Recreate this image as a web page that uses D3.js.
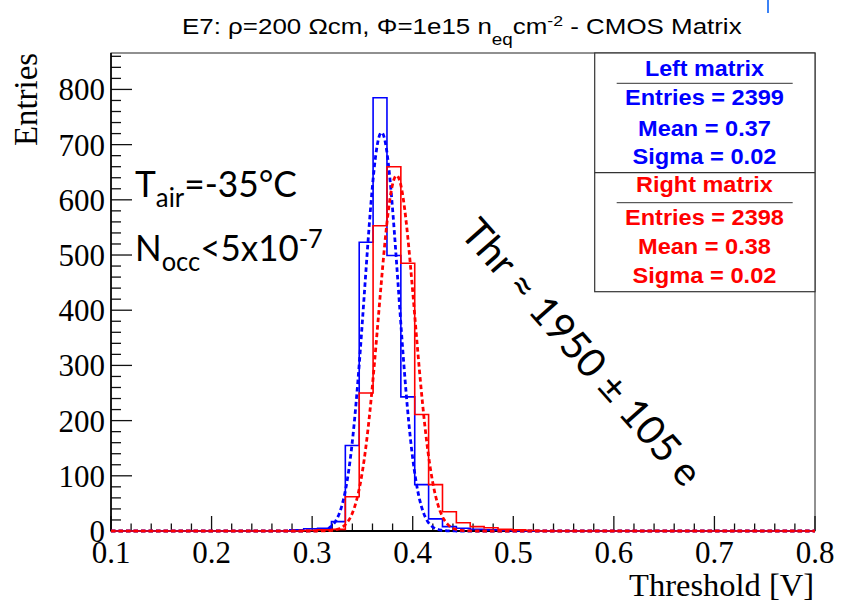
<!DOCTYPE html>
<html>
<head>
<meta charset="utf-8">
<script src="https://cdn.jsdelivr.net/npm/d3@7"></script>
<style>
  body { margin: 0; background: #fff; }
  svg { display: block; }
</style>
</head>
<body>
<svg id="chart" width="846" height="613"></svg>
<script>
// Threshold distributions of the left and right CMOS matrix, with Gaussian fits.
const binStart = 0.2778;
const binWidth = 0.0138;
const leftCounts  = [2, 4, 5, 17, 155, 523, 785, 499, 243, 84, 22, 8, 5, 3, 2, 1];
const rightCounts = [0, 1, 2, 3, 62, 250, 553, 660, 485, 211, 84, 35, 15, 8, 6, 3, 2, 1];

// Gaussian fit parameters: constant, mean, sigma
const leftFit  = [722, 0.369, 0.0168];
const rightFit = [644, 0.384, 0.0180];

const xTicks = [0.1, 0.2, 0.3, 0.4, 0.5, 0.6, 0.7, 0.8];
const yTicks = [0, 100, 200, 300, 400, 500, 600, 700, 800];
const xDomain = [0.1, 0.8];
const yDomain = [0, 866];

const statsLeft  = ["Left matrix", "Entries = 2399", "Mean = 0.37", "Sigma = 0.02"];
const statsRight = ["Right matrix", "Entries = 2398", "Mean = 0.38", "Sigma = 0.02"];

const BLUE = "#0000ff", RED = "#ff0000";
const frame = { left: 111, right: 815, top: 53, bottom: 531 };

const svg = d3.select("#chart");
const x = d3.scaleLinear().domain(xDomain).range([frame.left, frame.right]);
const y = d3.scaleLinear().domain(yDomain).range([frame.bottom, frame.top]);

// stretch a text element horizontally so it spans a given width, anchored at ax
function fitWidth(sel, target, ax) {
  const w = sel.node().getBBox().width;
  const k = target / w;
  sel.attr("transform", `translate(${ax},0) scale(${k},1) translate(${-ax},0)`);
}

svg.append("clipPath").attr("id", "plotClip")
  .append("rect")
  .attr("x", frame.left).attr("y", frame.top)
  .attr("width", frame.right - frame.left).attr("height", frame.bottom - frame.top + 3);

// ---- frame and axes ----
svg.append("rect")
  .attr("x", frame.left).attr("y", frame.top)
  .attr("width", frame.right - frame.left).attr("height", frame.bottom - frame.top)
  .attr("fill", "none").attr("stroke", "#222").attr("stroke-width", 1);

const axes = svg.append("g").attr("stroke", "#111").attr("stroke-width", 1.3);

// y ticks: major every 100, minor every 20
d3.range(0, yDomain[1], 20).forEach(v => {
  const major = v % 100 === 0;
  axes.append("line")
    .attr("x1", frame.left).attr("x2", frame.left + (major ? 21 : 10))
    .attr("y1", y(v)).attr("y2", y(v));
});
// x ticks: major every 0.1, minor every 0.02
d3.range(0, 36).forEach(i => {
  const v = 0.1 + i * 0.02;
  const major = i % 5 === 0;
  axes.append("line")
    .attr("x1", x(v)).attr("x2", x(v))
    .attr("y1", frame.bottom).attr("y2", frame.bottom - (major ? 15 : 7.5));
});
svg.append("line").attr("x1", frame.left).attr("x2", frame.left)
  .attr("y1", frame.top).attr("y2", frame.bottom + 0.5)
  .attr("stroke", "#000").attr("stroke-width", 1.6);
svg.append("line").attr("x1", frame.left).attr("x2", frame.right)
  .attr("y1", frame.bottom).attr("y2", frame.bottom)
  .attr("stroke", "#000").attr("stroke-width", 2);

// ---- histograms and fits ----
function histPoints(counts) {
  const pts = [[xDomain[0], 0], [binStart, 0]];
  counts.forEach((c, i) => {
    const lo = binStart + i * binWidth, hi = lo + binWidth;
    pts.push([lo, c], [hi, c]);
  });
  const end = binStart + counts.length * binWidth;
  pts.push([end, 0], [xDomain[1], 0]);
  return pts;
}
const line = d3.line().x(d => x(d[0])).y(d => y(d[1]));

function gaussPoints(p) {
  const [a, m, s] = p;
  return d3.range(xDomain[0], xDomain[1] + 1e-9, 0.0005)
    .map(v => [v, a * Math.exp(-0.5 * ((v - m) / s) ** 2)]);
}

const plot = svg.append("g").attr("clip-path", "url(#plotClip)");

plot.append("path").attr("d", line(histPoints(leftCounts)))
  .attr("fill", "none").attr("stroke", BLUE).attr("stroke-width", 1.6);
plot.append("path").attr("d", line(gaussPoints(leftFit)))
  .attr("fill", "none").attr("stroke", BLUE).attr("stroke-width", 2.8)
  .attr("stroke-dasharray", "4.5,3");
plot.append("path").attr("d", line(histPoints(rightCounts)))
  .attr("fill", "none").attr("stroke", RED).attr("stroke-width", 1.6);
plot.append("path").attr("d", line(gaussPoints(rightFit)))
  .attr("fill", "none").attr("stroke", RED).attr("stroke-width", 2.8)
  .attr("stroke-dasharray", "4.5,3");

// ---- axis labels ----
const serif = "'Liberation Serif', 'Times New Roman', serif";
svg.append("g").selectAll("text").data(yTicks).join("text")
  .attr("x", 105).attr("y", d => y(d) + 11)
  .attr("text-anchor", "end")
  .attr("font-family", serif).attr("font-size", 31)
  .text(d => d);
svg.append("g").selectAll("text").data(xTicks).join("text")
  .attr("x", d => x(d)).attr("y", 562.5)
  .attr("text-anchor", "middle")
  .attr("font-family", serif).attr("font-size", 31)
  .text(d => d3.format(".1f")(d));

const xTitle = svg.append("text")
  .attr("x", 814).attr("y", 596).attr("text-anchor", "end")
  .attr("font-family", serif).attr("font-size", 32)
  .text("Threshold [V]");
fitWidth(xTitle, 185, 814);

const yTitleG = svg.append("g").attr("transform", "translate(36.5,53) rotate(-90)");
const yTitle = yTitleG.append("text")
  .attr("x", 0).attr("y", 0).attr("text-anchor", "end")
  .attr("font-family", serif).attr("font-size", 34)
  .text("Entries");
fitWidth(yTitle, 93, 0);

// ---- title ----
const sans = "'Liberation Sans', Arial, Helvetica, sans-serif";
const title = svg.append("text")
  .attr("x", 182).attr("y", 34.3)
  .attr("font-family", sans).attr("font-size", 22);
title.append("tspan").text("E7: ρ=200 Ωcm, Φ=1e15 n");
title.append("tspan").attr("font-size", 16).attr("dy", 11).text("eq");
title.append("tspan").attr("dy", -11).text("cm");
title.append("tspan").attr("font-size", 15).attr("dy", -8).text("-2");
title.append("tspan").attr("dy", 8).text(" - CMOS Matrix");
fitWidth(title, 560, 182);

// ---- statistics boxes ----
const box = { left: 594.7, right: 815, top: 53, mid: 172.7, bottom: 291.7 };
svg.append("rect")
  .attr("x", box.left).attr("y", box.top)
  .attr("width", box.right - box.left).attr("height", box.bottom - box.top)
  .attr("fill", "#fff").attr("stroke", "#333").attr("stroke-width", 1.2);
svg.append("line").attr("x1", box.left).attr("x2", box.right)
  .attr("y1", box.mid).attr("y2", box.mid)
  .attr("stroke", "#333").attr("stroke-width", 1.2);

const cx = 704.5;
const leftBase  = [76, 105, 136, 164.5];
const rightBase = [191.7, 225, 254, 283.3];
const leftWidths  = [120, 159, 133, 144];
const rightWidths = [137.7, 159, 133, 144];

function statsBlock(lines, bases, widths, color, ruleY) {
  lines.forEach((t, i) => {
    const el = svg.append("text")
      .attr("x", cx).attr("y", bases[i]).attr("text-anchor", "middle")
      .attr("font-family", sans).attr("font-weight", "bold").attr("font-size", 22)
      .attr("fill", color).text(t);
    fitWidth(el, widths[i], cx);
  });
  svg.append("line").attr("x1", 616.7).attr("x2", 792.7)
    .attr("y1", ruleY).attr("y2", ruleY)
    .attr("stroke", "#333").attr("stroke-width", 1);
}
statsBlock(statsLeft, leftBase, leftWidths, BLUE, 83.3);
statsBlock(statsRight, rightBase, rightWidths, RED, 202.7);

// ---- annotations ----
const hum = "Lato, 'Open Sans', sans-serif";
const tAir = svg.append("text")
  .attr("x", 135).attr("y", 197.3)
  .attr("font-family", hum).attr("font-size", 37);
tAir.append("tspan").text("T");
tAir.append("tspan").attr("font-size", 27).attr("dy", 10).text("air");
tAir.append("tspan").attr("dy", -10).text("=-35°C");
fitWidth(tAir, 162, 135);

const nOcc = svg.append("text")
  .attr("x", 135).attr("y", 260.7)
  .attr("font-family", hum).attr("font-size", 37);
nOcc.append("tspan").text("N");
nOcc.append("tspan").attr("font-size", 27).attr("dy", 10).text("occ");
nOcc.append("tspan").attr("dy", -10).text("<5x10");
nOcc.append("tspan").attr("font-size", 27).attr("dy", -13).text("-7");
fitWidth(nOcc, 188, 135);

const thrG = svg.append("g").attr("transform", "translate(581,353) rotate(48.6)");
const thr = thrG.append("text")
  .attr("x", 0).attr("y", 13).attr("text-anchor", "middle")
  .attr("font-family", hum).attr("font-size", 40)
  .text("Thr ≈ 1950 ± 105 e");
fitWidth(thr, 340, 0);

// small blue mark at the upper edge
svg.append("line").attr("x1", 768).attr("x2", 768).attr("y1", 0).attr("y2", 13)
  .attr("stroke", "#3b82f6").attr("stroke-width", 2);
</script>
</body>
</html>
